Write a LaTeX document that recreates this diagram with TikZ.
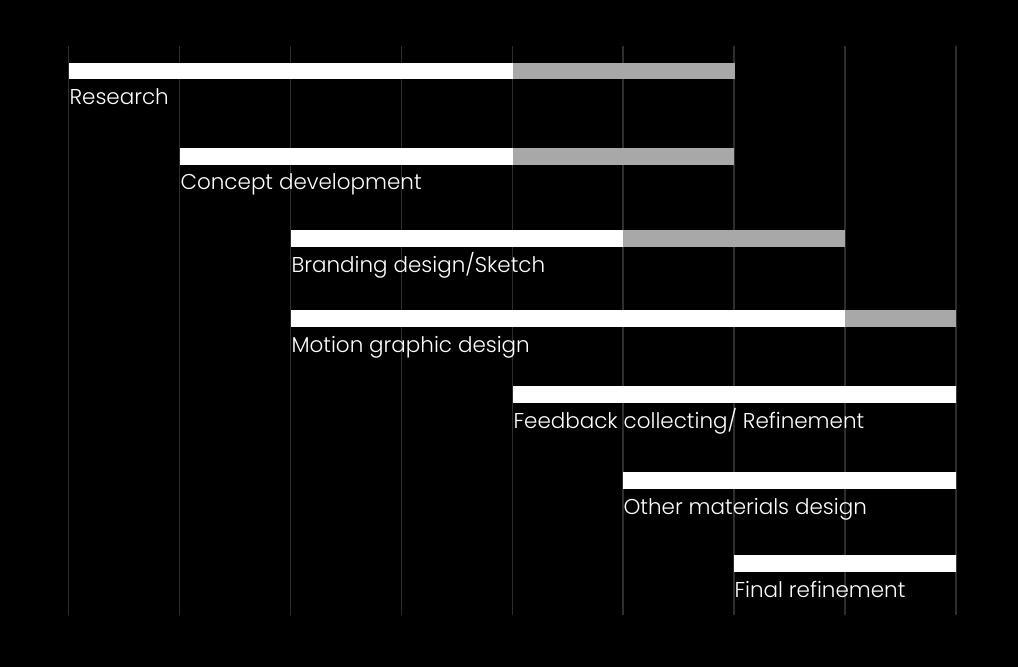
\documentclass[tikz,border=0pt]{standalone}
\usepackage{fontspec}
\setmainfont{Poppins}[UprightFont={* Light}]
\usepackage{tikz}
\usetikzlibrary{positioning,calc}

\definecolor{barGray}{HTML}{A8A8A8}
\definecolor{gridGray}{HTML}{2E2E2E}

\begin{document}
\begin{tikzpicture}[x=0.75pt, y=-0.75pt,
    every node/.style={text=white, font=\fontsize{16.1}{18}\selectfont, inner sep=0pt},
    gridline/.style={draw=gridGray, line width=0.8pt},
    donebar/.style={fill=white},
    restbar/.style={fill=barGray}]
            \fill[black] (0,0) rectangle (1018,667);
            \useasboundingbox (0,0) rectangle (1018,667);

            % vertical grid
            \foreach \gx in {68.5,179.5,290.5,401.5,512.5,623,734,845,956}
                \draw[gridline] (\gx,46) -- (\gx,614.5);

            % bars: top, start, split, end
            \foreach \by/\bs/\bm/\be/\nm in {63/69/513/735/research, 148/180/513/734/concept,
                    230/291/623/845/branding, 310/291/845/956/motion,
                    386/513/956/956/feedback, 472/623/956/956/other, 555/734/956/956/final}{
                \fill[donebar] (\bs,\by) rectangle (\bm,\by+16.5);
                \fill[restbar] (\bm,\by) rectangle (\be,\by+16.5);
                \coordinate (\nm) at (\bs+0.3,\by+42);
            }

            \node[anchor=base west] (researchlbl) at (research) {Research};
            \node[anchor=base west] (conceptlbl) at (concept) {Concept development};
            \node[anchor=base west] (brandinglbl) at (branding) {Branding design/Sketch};
            \node[anchor=base west] (motionlbl) at (motion) {Motion graphic design};
            \node[anchor=base west] (feedbacklbl) at (feedback) {Feedback collecting/ Refinement};
            \node[anchor=base west] (otherlbl) at (other) {Other materials design};
            \node[anchor=base west] (finallbl) at (final) {Final refinement};

    \end{tikzpicture}
\end{document}
